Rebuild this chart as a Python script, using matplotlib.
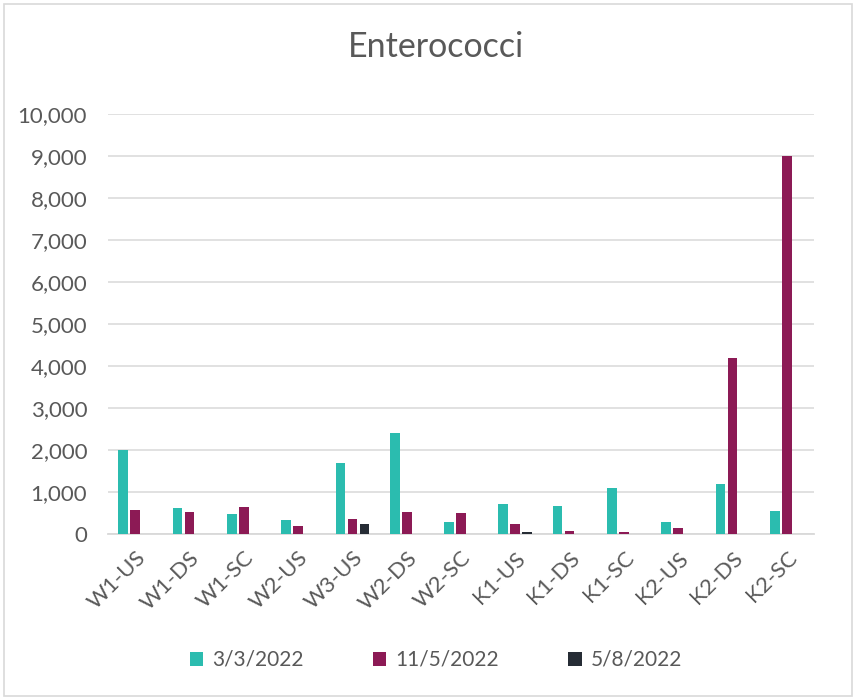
import matplotlib
matplotlib.use("Agg")
import matplotlib.pyplot as plt
import numpy as np
from matplotlib.patches import Rectangle
from matplotlib.ticker import FuncFormatter, MultipleLocator

plt.rcParams['font.family'] = ['Lato', 'DejaVu Sans']

sites = ["W1-US", "W1-DS", "W1-SC", "W2-US", "W3-US", "W2-DS", "W2-SC",
         "K1-US", "K1-DS", "K1-SC", "K2-US", "K2-DS", "K2-SC"]
series_names = ["3/3/2022", "11/5/2022", "5/8/2022"]
mar_2022 = [2000, 620, 480, 330, 1700, 2400, 290, 710, 660, 1100, 290, 1200, 550]
may_2022 = [560, 520, 640, 200, 360, 520, 490, 250, 70, 50, 140, 4200, 9000]
aug_2022 = [0, 0, 0, 0, 240, 0, 0, 40, 0, 0, 0, 0, 0]
colors = ["#2BBCAF", "#8C1A55", "#262C35"]

text_gray = "#595959"
grid_gray = "#D9D9D9"

fig = plt.figure(figsize=(8.56, 6.99), dpi=100)
fig.patches.append(Rectangle((4 / 856, 3 / 699), 848 / 856, 692 / 699,
                             transform=fig.transFigure, fill=False,
                             edgecolor=grid_gray, linewidth=1.2))

ax = fig.add_axes([108 / 856, 1 - 534 / 699, 706 / 856, 420 / 699])

x = np.arange(len(sites))
step = 0.221
width = 0.178
for i, (vals, name, col) in enumerate(zip([mar_2022, may_2022, aug_2022], series_names, colors)):
    ax.bar(x + (i - 1) * step, vals, width=width, color=col, label=name, zorder=3)

ax.set_xlim(-0.5, len(sites) - 0.5)
ax.set_ylim(0, 10000)
ax.yaxis.set_major_locator(MultipleLocator(1000))
ax.yaxis.set_major_formatter(FuncFormatter(lambda v, p: f"{int(v):,}"))
ax.grid(axis="y", color=grid_gray, linewidth=1.1, zorder=0)
for s in ["top", "right", "left"]:
    ax.spines[s].set_visible(False)
ax.spines["bottom"].set_color(grid_gray)
ax.spines["bottom"].set_linewidth(1.3)

ax.set_xticks(x)
ax.set_xticklabels(sites, rotation=45, ha="right", rotation_mode="anchor")
ax.tick_params(axis="both", length=0, labelsize=16, labelcolor=text_gray)
ax.tick_params(axis="y", pad=15)
ax.tick_params(axis="x", pad=10)

fig.text(436 / 856, 1 - 47 / 699, "Enterococci", ha="center", va="center",
         fontsize=24.5, color=text_gray)

handles, labels = ax.get_legend_handles_labels()
fig.legend(handles, labels, loc="center", bbox_to_anchor=(436 / 856, 1 - 660 / 699),
           ncol=3, frameon=False, fontsize=15, labelcolor=text_gray,
           handlelength=0.65, handleheight=0.65, handletextpad=0.45, columnspacing=3.3)

fig.savefig("out.png", dpi=100)
